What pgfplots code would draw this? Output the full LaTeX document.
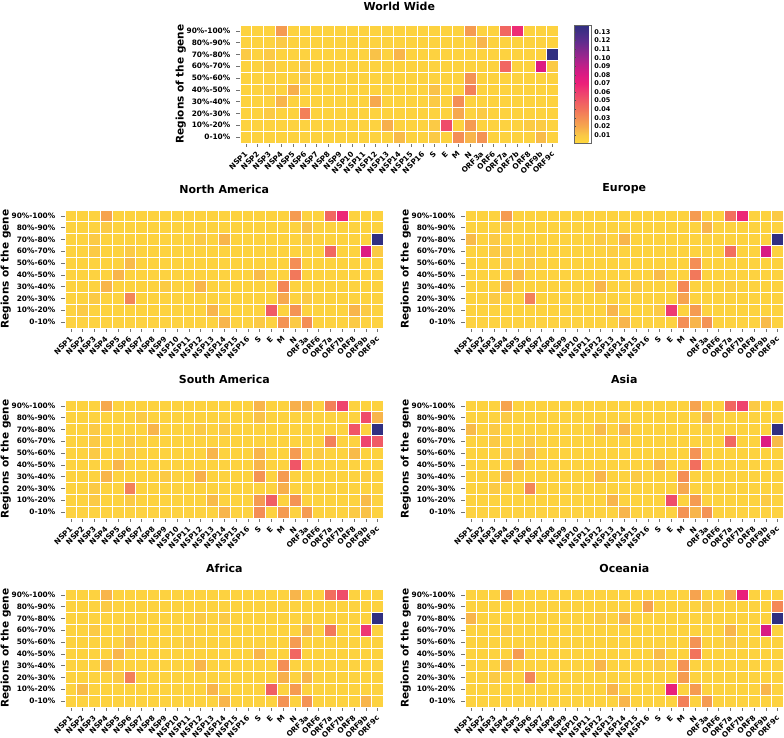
\documentclass[border=0pt]{standalone}
\usepackage{pgfplots}
\usepackage{pgfplotstable}
\pgfplotsset{compat=1.18}
\usepackage{fontspec}
\setmainfont{DejaVu Sans}

\newcommand\tickfont{\fontsize{7.4}{8}\selectfont\bfseries}

\pgfplotsset{
 colormap={hmcm}{[1pt] rgb255(0pt)=(255,216,60) rgb255(68pt)=(250,200,70) rgb255(141pt)=(246,168,78) rgb255(213pt)=(244,142,85) rgb255(286pt)=(242,115,92) rgb255(359pt)=(240,90,101) rgb255(432pt)=(238,63,112) rgb255(505pt)=(236,32,121) rgb255(578pt)=(221,26,130) rgb255(650pt)=(194,30,136) rgb255(723pt)=(160,37,142) rgb255(869pt)=(92,45,141) rgb255(1000pt)=(47,47,128)},
 hmcell/.style={scatter, only marks, mark=square*, mark size=5.9pt, line width=0.9pt, point meta=explicit,
   scatter/use mapped color={draw=white, fill=mapped color}},
 hm/.style={
   x=11.8pt, y=11.8pt,
   xmin=-0.5, xmax=26.5, ymin=-0.5, ymax=9.5,
   xtick={0,...,26}, ytick={0,...,9},
   xticklabels={NSP1,NSP2,NSP3,NSP4,NSP5,NSP6,NSP7,NSP8,NSP9,NSP10,NSP11,NSP12,NSP13,NSP14,NSP15,NSP16,S,E,M,N,ORF3a,ORF6,ORF7a,ORF7b,ORF8,ORF9b,ORF9c},
   yticklabels={0-10\%,10\%-20\%,20\%-30\%,30\%-40\%,40\%-50\%,50\%-60\%,60\%-70\%,70\%-80\%,80\%-90\%,90\%-100\%},
   tick pos=left, tick align=outside, major tick length=4pt,
   major tick style={black!55, line width=0.6pt},
   axis line style={black!60, line width=0.7pt},
   xticklabel style={yshift=-5pt, xshift=1pt, rotate=45, anchor=east, font=\tickfont, inner sep=1pt},
   yticklabel style={xshift=-4.5pt, font=\tickfont, inner sep=1pt},
   ylabel={Regions of the gene},
   ylabel style={at={(axis description cs:-0.186,0.5)}, anchor=center, inner sep=0pt, font=\fontsize{10.5}{12}\selectfont\bfseries},
   title style={at={(axis description cs:0.5,1.178)}, anchor=center, yshift=-6pt, inner sep=0pt, font=\fontsize{11}{13}\selectfont\bfseries},
   point meta min=0.0007, point meta max=0.138,
   colormap name=hmcm,
   axis on top,
 }
}

\newcommand{\heat}[1]{\pgfplotsinvokeforeach{0,...,26}{\addplot[hmcell] table[x expr=##1, y=r, meta=c##1]{#1};}}

\pgfplotstableread{
r c0 c1 c2 c3 c4 c5 c6 c7 c8 c9 c10 c11 c12 c13 c14 c15 c16 c17 c18 c19 c20 c21 c22 c23 c24 c25 c26
9 .004 .004 .004 .025  .004 .004 .004 .004  .004 .004 .004 .004  .004 .004 .004 .004   .004 .004 .004 .025  .004 .004 .045 .066  .004 .004 .004
8 .004 .004 .004 .009  .004 .004 .004 .004  .004 .004 .004 .004  .004 .004 .004 .004   .004 .004 .004 .004  .016 .004 .004 .004  .004 .004 .004
7 .009 .004 .009 .004  .004 .004 .004 .004  .004 .004 .004 .012  .004 .016 .004 .004   .004 .004 .004 .004  .004 .004 .004 .004  .004 .004 .137
6 .004 .004 .009 .004  .004 .009 .004 .004  .004 .004 .004 .004  .004 .004 .004 .004   .004 .004 .004 .004  .004 .004 .045 .004  .004 .080 .009
5 .004 .004 .004 .004  .004 .009 .004 .004  .004 .004 .004 .004  .004 .004 .004 .004   .004 .004 .004 .028  .004 .004 .004 .004  .004 .004 .004
4 .004 .004 .007 .004  .018 .004 .004 .004  .004 .004 .004 .004  .004 .004 .004 .004   .012 .004 .004 .035  .004 .004 .004 .004  .004 .004 .004
3 .004 .004 .004 .016  .004 .004 .004 .004  .004 .004 .004 .020  .004 .004 .004 .004   .009 .004 .030 .004  .004 .004 .004 .004  .004 .004 .004
2 .004 .004 .009 .004  .004 .035 .004 .004  .004 .004 .004 .004  .004 .004 .004 .004   .004 .004 .020 .004  .009 .004 .004 .004  .004 .004 .004
1 .004 .004 .004 .004  .004 .004 .004 .004  .004 .004 .004 .004  .018 .004 .004 .004   .009 .055 .004 .025  .004 .004 .004 .004  .008 .008 .004
0 .004 .004 .004 .004  .004 .004 .004 .004  .004 .004 .004 .004  .004 .014 .004 .004   .009 .004 .030 .016  .028 .004 .004 .004  .004 .014 .004
}\tWW

\pgfplotstableread{
r c0 c1 c2 c3 c4 c5 c6 c7 c8 c9 c10 c11 c12 c13 c14 c15 c16 c17 c18 c19 c20 c21 c22 c23 c24 c25 c26
9 .004 .004 .004 .022  .004 .004 .004 .004  .004 .004 .004 .004  .004 .004 .004 .004   .004 .004 .004 .025  .004 .004 .045 .068  .004 .004 .004
8 .004 .004 .004 .009  .004 .004 .004 .004  .004 .004 .004 .004  .004 .004 .004 .004   .004 .004 .004 .004  .012 .004 .004 .004  .004 .004 .004
7 .004 .004 .009 .004  .004 .004 .004 .004  .004 .004 .004 .009  .004 .016 .004 .004   .004 .004 .004 .004  .007 .004 .004 .004  .004 .004 .137
6 .004 .004 .009 .004  .004 .009 .004 .004  .004 .004 .004 .004  .004 .004 .004 .004   .004 .004 .004 .004  .004 .004 .045 .004  .004 .080 .009
5 .004 .004 .004 .004  .004 .014 .004 .004  .004 .004 .004 .004  .004 .004 .004 .004   .004 .004 .004 .030  .004 .004 .004 .004  .004 .004 .004
4 .004 .004 .004 .004  .016 .004 .004 .004  .004 .004 .004 .004  .004 .004 .004 .004   .014 .004 .004 .038  .004 .004 .004 .004  .004 .004 .004
3 .004 .004 .004 .016  .004 .004 .004 .004  .008 .004 .004 .016  .004 .004 .004 .004   .004 .004 .033 .004  .004 .004 .004 .004  .004 .004 .004
2 .004 .004 .009 .004  .004 .033 .004 .004  .004 .004 .004 .004  .004 .004 .004 .004   .004 .004 .020 .004  .009 .004 .004 .004  .004 .004 .004
1 .004 .009 .004 .004  .004 .004 .004 .004  .004 .004 .004 .004  .016 .004 .004 .004   .004 .050 .004 .028  .004 .004 .004 .004  .016 .009 .004
0 .004 .004 .004 .004  .004 .004 .004 .004  .004 .004 .004 .004  .004 .016 .004 .004   .009 .004 .028 .009  .030 .004 .004 .004  .009 .004 .004
}\tNA

\pgfplotstableread{
r c0 c1 c2 c3 c4 c5 c6 c7 c8 c9 c10 c11 c12 c13 c14 c15 c16 c17 c18 c19 c20 c21 c22 c23 c24 c25 c26
9 .004 .004 .004 .025  .004 .004 .004 .004  .004 .004 .004 .004  .004 .004 .004 .004   .004 .004 .004 .025  .004 .004 .042 .068  .004 .004 .009
8 .004 .004 .004 .009  .004 .004 .004 .004  .004 .004 .004 .004  .004 .004 .004 .004   .004 .004 .004 .004  .016 .004 .004 .004  .004 .004 .004
7 .014 .004 .009 .004  .004 .004 .004 .004  .004 .004 .004 .009  .004 .016 .004 .004   .004 .004 .004 .004  .004 .004 .004 .004  .004 .004 .137
6 .004 .004 .009 .009  .004 .009 .004 .004  .004 .004 .004 .004  .007 .004 .004 .004   .004 .004 .004 .004  .004 .004 .042 .004  .004 .082 .004
5 .004 .004 .004 .009  .004 .009 .004 .004  .004 .004 .004 .004  .004 .004 .004 .004   .004 .004 .004 .030  .004 .004 .004 .004  .004 .004 .004
4 .004 .004 .004 .004  .016 .004 .004 .004  .004 .004 .004 .004  .004 .004 .004 .004   .014 .004 .004 .038  .004 .004 .004 .004  .004 .004 .004
3 .004 .004 .004 .016  .004 .004 .004 .004  .004 .004 .004 .016  .004 .004 .009 .004   .004 .004 .032 .004  .004 .004 .007 .004  .004 .004 .004
2 .004 .004 .009 .004  .004 .035 .004 .004  .004 .004 .004 .004  .004 .004 .004 .004   .004 .004 .022 .004  .004 .004 .004 .004  .004 .004 .004
1 .004 .004 .004 .004  .004 .004 .004 .004  .004 .004 .004 .004  .016 .004 .004 .004   .009 .062 .004 .025  .004 .004 .004 .004  .004 .004 .004
0 .004 .004 .004 .004  .004 .004 .004 .004  .004 .004 .004 .004  .004 .016 .004 .004   .004 .004 .030 .016  .028 .004 .004 .004  .004 .014 .004
}\tEU

\pgfplotstableread{
r c0 c1 c2 c3 c4 c5 c6 c7 c8 c9 c10 c11 c12 c13 c14 c15 c16 c17 c18 c19 c20 c21 c22 c23 c24 c25 c26
9 .004 .004 .004 .020  .004 .004 .004 .004  .004 .004 .004 .004  .004 .004 .004 .004   .016 .004 .004 .018  .016 .004 .035 .058  .004 .004 .004
8 .004 .004 .004 .004  .004 .004 .009 .004  .004 .004 .004 .004  .004 .004 .004 .004   .012 .004 .004 .004  .004 .004 .004 .004  .004 .055 .016
7 .004 .004 .009 .004  .004 .004 .004 .016  .004 .004 .004 .009  .004 .009 .004 .004   .004 .004 .004 .004  .004 .004 .004 .004  .052 .004 .137
6 .004 .004 .009 .004  .004 .009 .004 .004  .004 .004 .004 .004  .004 .004 .004 .004   .004 .004 .004 .004  .004 .004 .035 .004  .004 .058 .050
5 .004 .004 .009 .004  .004 .009 .004 .004  .004 .004 .004 .004  .016 .004 .004 .004   .016 .004 .004 .025  .004 .009 .004 .004  .014 .004 .004
4 .004 .004 .004 .004  .016 .004 .004 .004  .004 .004 .004 .004  .004 .004 .004 .004   .016 .004 .004 .052  .004 .004 .004 .004  .004 .004 .004
3 .004 .004 .004 .016  .004 .004 .004 .004  .009 .004 .004 .018  .004 .004 .004 .004   .028 .004 .025 .004  .004 .004 .004 .004  .004 .007 .004
2 .004 .004 .009 .004  .004 .035 .004 .004  .004 .004 .004 .004  .004 .004 .004 .004   .004 .004 .018 .004  .004 .004 .004 .004  .004 .004 .004
1 .004 .004 .009 .004  .004 .009 .004 .004  .004 .004 .004 .004  .014 .004 .004 .004   .025 .048 .004 .028  .004 .004 .004 .004  .004 .014 .004
0 .004 .004 .004 .004  .004 .004 .004 .004  .004 .004 .004 .004  .004 .016 .004 .004   .030 .004 .025 .004  .025 .004 .004 .004  .009 .012 .004
}\tSA

\pgfplotstableread{
r c0 c1 c2 c3 c4 c5 c6 c7 c8 c9 c10 c11 c12 c13 c14 c15 c16 c17 c18 c19 c20 c21 c22 c23 c24 c25 c26
9 .004 .004 .004 .022  .004 .004 .004 .004  .004 .004 .004 .004  .004 .004 .004 .004   .004 .004 .004 .022  .004 .004 .045 .058  .009 .004 .004
8 .004 .004 .004 .009  .004 .004 .004 .004  .004 .004 .004 .004  .004 .004 .004 .004   .004 .004 .004 .004  .016 .004 .004 .004  .004 .004 .004
7 .014 .004 .009 .004  .004 .004 .004 .004  .004 .004 .004 .014  .004 .016 .004 .004   .004 .004 .004 .004  .004 .004 .004 .004  .004 .004 .137
6 .004 .004 .009 .004  .004 .009 .004 .004  .004 .004 .004 .004  .004 .004 .004 .004   .004 .004 .004 .004  .004 .004 .045 .004  .004 .080 .014
5 .004 .004 .004 .009  .009 .014 .004 .004  .004 .004 .004 .004  .004 .004 .004 .004   .004 .004 .004 .028  .004 .004 .004 .004  .004 .004 .004
4 .004 .004 .004 .004  .018 .004 .004 .004  .004 .004 .004 .004  .004 .004 .004 .004   .016 .004 .004 .042  .004 .004 .004 .004  .004 .004 .004
3 .004 .004 .004 .016  .004 .004 .004 .004  .004 .004 .004 .016  .004 .004 .009 .004   .004 .004 .030 .004  .004 .004 .004 .004  .004 .004 .004
2 .004 .004 .009 .004  .004 .033 .004 .004  .004 .004 .004 .004  .004 .004 .004 .004   .004 .004 .020 .004  .004 .004 .004 .004  .004 .004 .004
1 .004 .004 .004 .004  .004 .004 .004 .004  .004 .004 .004 .004  .016 .004 .004 .004   .004 .055 .004 .025  .004 .004 .004 .004  .004 .009 .004
0 .004 .004 .004 .004  .004 .004 .004 .004  .004 .004 .004 .004  .004 .016 .004 .004   .004 .004 .028 .016  .028 .004 .004 .004  .004 .004 .004
}\tAS

\pgfplotstableread{
r c0 c1 c2 c3 c4 c5 c6 c7 c8 c9 c10 c11 c12 c13 c14 c15 c16 c17 c18 c19 c20 c21 c22 c23 c24 c25 c26
9 .004 .004 .004 .016  .004 .004 .004 .004  .004 .004 .004 .004  .004 .004 .004 .004   .004 .004 .004 .016  .004 .004 .042 .055  .004 .004 .004
8 .004 .004 .004 .009  .004 .004 .004 .004  .004 .004 .004 .004  .004 .004 .004 .004   .004 .004 .004 .004  .004 .004 .004 .004  .004 .004 .004
7 .004 .004 .004 .004  .004 .004 .004 .004  .004 .004 .004 .009  .004 .009 .004 .004   .004 .004 .004 .004  .004 .004 .004 .004  .004 .004 .137
6 .004 .004 .009 .004  .004 .009 .004 .004  .004 .004 .004 .004  .004 .004 .004 .004   .004 .004 .004 .004  .016 .004 .038 .004  .004 .063 .004
5 .004 .004 .004 .004  .004 .014 .004 .004  .004 .004 .009 .004  .004 .004 .004 .004   .004 .004 .004 .025  .004 .004 .004 .004  .004 .004 .004
4 .004 .004 .004 .004  .016 .004 .004 .004  .004 .004 .004 .004  .004 .004 .004 .004   .016 .004 .004 .045  .004 .004 .004 .004  .004 .004 .004
3 .004 .004 .004 .016  .004 .004 .004 .004  .004 .004 .004 .016  .004 .004 .004 .004   .004 .004 .030 .004  .004 .004 .004 .004  .004 .004 .004
2 .004 .004 .004 .004  .009 .035 .004 .004  .004 .004 .004 .004  .004 .004 .004 .004   .004 .004 .018 .004  .016 .004 .004 .004  .004 .004 .004
1 .004 .014 .004 .004  .004 .004 .004 .004  .004 .004 .004 .004  .016 .004 .004 .004   .004 .048 .004 .025  .004 .004 .004 .004  .004 .004 .004
0 .004 .004 .004 .004  .004 .004 .004 .004  .004 .004 .004 .004  .004 .016 .004 .004   .004 .004 .028 .004  .028 .004 .004 .004  .004 .016 .004
}\tAF

\pgfplotstableread{
r c0 c1 c2 c3 c4 c5 c6 c7 c8 c9 c10 c11 c12 c13 c14 c15 c16 c17 c18 c19 c20 c21 c22 c23 c24 c25 c26
9 .004 .004 .004 .025  .004 .004 .004 .004  .004 .004 .004 .004  .004 .004 .004 .004   .004 .004 .004 .022  .004 .004 .018 .072  .004 .004 .004
8 .004 .004 .004 .004  .004 .004 .004 .004  .004 .004 .004 .004  .004 .004 .004 .022   .004 .004 .004 .004  .009 .004 .004 .004  .004 .004 .032
7 .016 .004 .004 .004  .004 .004 .004 .004  .004 .004 .004 .009  .004 .016 .004 .004   .004 .004 .004 .004  .004 .004 .004 .004  .004 .004 .137
6 .004 .004 .004 .009  .004 .004 .004 .004  .004 .004 .004 .004  .004 .004 .004 .004   .004 .004 .004 .004  .004 .004 .016 .004  .004 .082 .004
5 .004 .004 .004 .004  .004 .004 .004 .004  .004 .004 .004 .004  .004 .004 .004 .004   .004 .004 .004 .028  .004 .004 .009 .004  .004 .004 .004
4 .004 .004 .004 .004  .025 .004 .004 .004  .004 .004 .004 .004  .004 .004 .004 .004   .014 .004 .004 .040  .004 .004 .004 .004  .004 .004 .004
3 .004 .004 .004 .016  .004 .004 .004 .004  .004 .004 .004 .016  .004 .004 .004 .004   .009 .004 .028 .004  .004 .004 .004 .004  .004 .004 .004
2 .004 .004 .009 .004  .004 .033 .004 .004  .004 .004 .004 .004  .004 .004 .004 .004   .004 .004 .025 .004  .004 .004 .004 .004  .004 .004 .004
1 .004 .004 .004 .004  .004 .004 .004 .004  .004 .004 .004 .004  .016 .004 .004 .004   .004 .072 .004 .025  .004 .004 .004 .004  .004 .016 .004
0 .004 .004 .004 .004  .004 .004 .004 .004  .004 .004 .004 .004  .004 .016 .004 .004   .004 .004 .035 .004  .025 .004 .004 .004  .004 .004 .004
}\tOC

\begin{document}
\begin{tikzpicture}
\useasboundingbox (0pt,0pt) rectangle (784pt,738pt);

\begin{axis}[hm, at={(240pt,595pt)}, anchor=south west, title={World Wide},
  title style={at={(axis description cs:0.5,1.16)}},
  colorbar,
  colorbar style={at={(parent axis.north east)}, anchor=north west, xshift=7pt,
    scale only axis, width=17pt, height=118pt,
    ytick={0.01,0.02,0.03,0.04,0.05,0.06,0.07,0.08,0.09,0.10,0.11,0.12,0.13},
    ytick pos=left, yticklabel pos=right, tick align=inside, major tick length=2pt,
    major tick style={black!70, line width=0.5pt}, axis line style={black!60, line width=0.7pt},
    yticklabel style={font=\fontsize{6.5}{7}\selectfont\bfseries, inner sep=1pt, xshift=2pt,
      /pgf/number format/.cd, fixed, fixed zerofill, precision=2, assume math mode=true}}]
\heat{\tWW}
\end{axis}

\begin{axis}[hm, at={(65pt,410pt)}, anchor=south west, title={North America}]
\heat{\tNA}
\end{axis}
\begin{axis}[hm, at={(465pt,410pt)}, anchor=south west, title={Europe}]
\heat{\tEU}
\end{axis}

\begin{axis}[hm, at={(65pt,220pt)}, anchor=south west, title={South America}]
\heat{\tSA}
\end{axis}
\begin{axis}[hm, at={(465pt,220pt)}, anchor=south west, title={Asia}]
\heat{\tAS}
\end{axis}

\begin{axis}[hm, at={(65pt,31pt)}, anchor=south west, title={Africa}]
\heat{\tAF}
\end{axis}
\begin{axis}[hm, at={(465pt,31pt)}, anchor=south west, title={Oceania}]
\heat{\tOC}
\end{axis}
\end{tikzpicture}
\end{document}
